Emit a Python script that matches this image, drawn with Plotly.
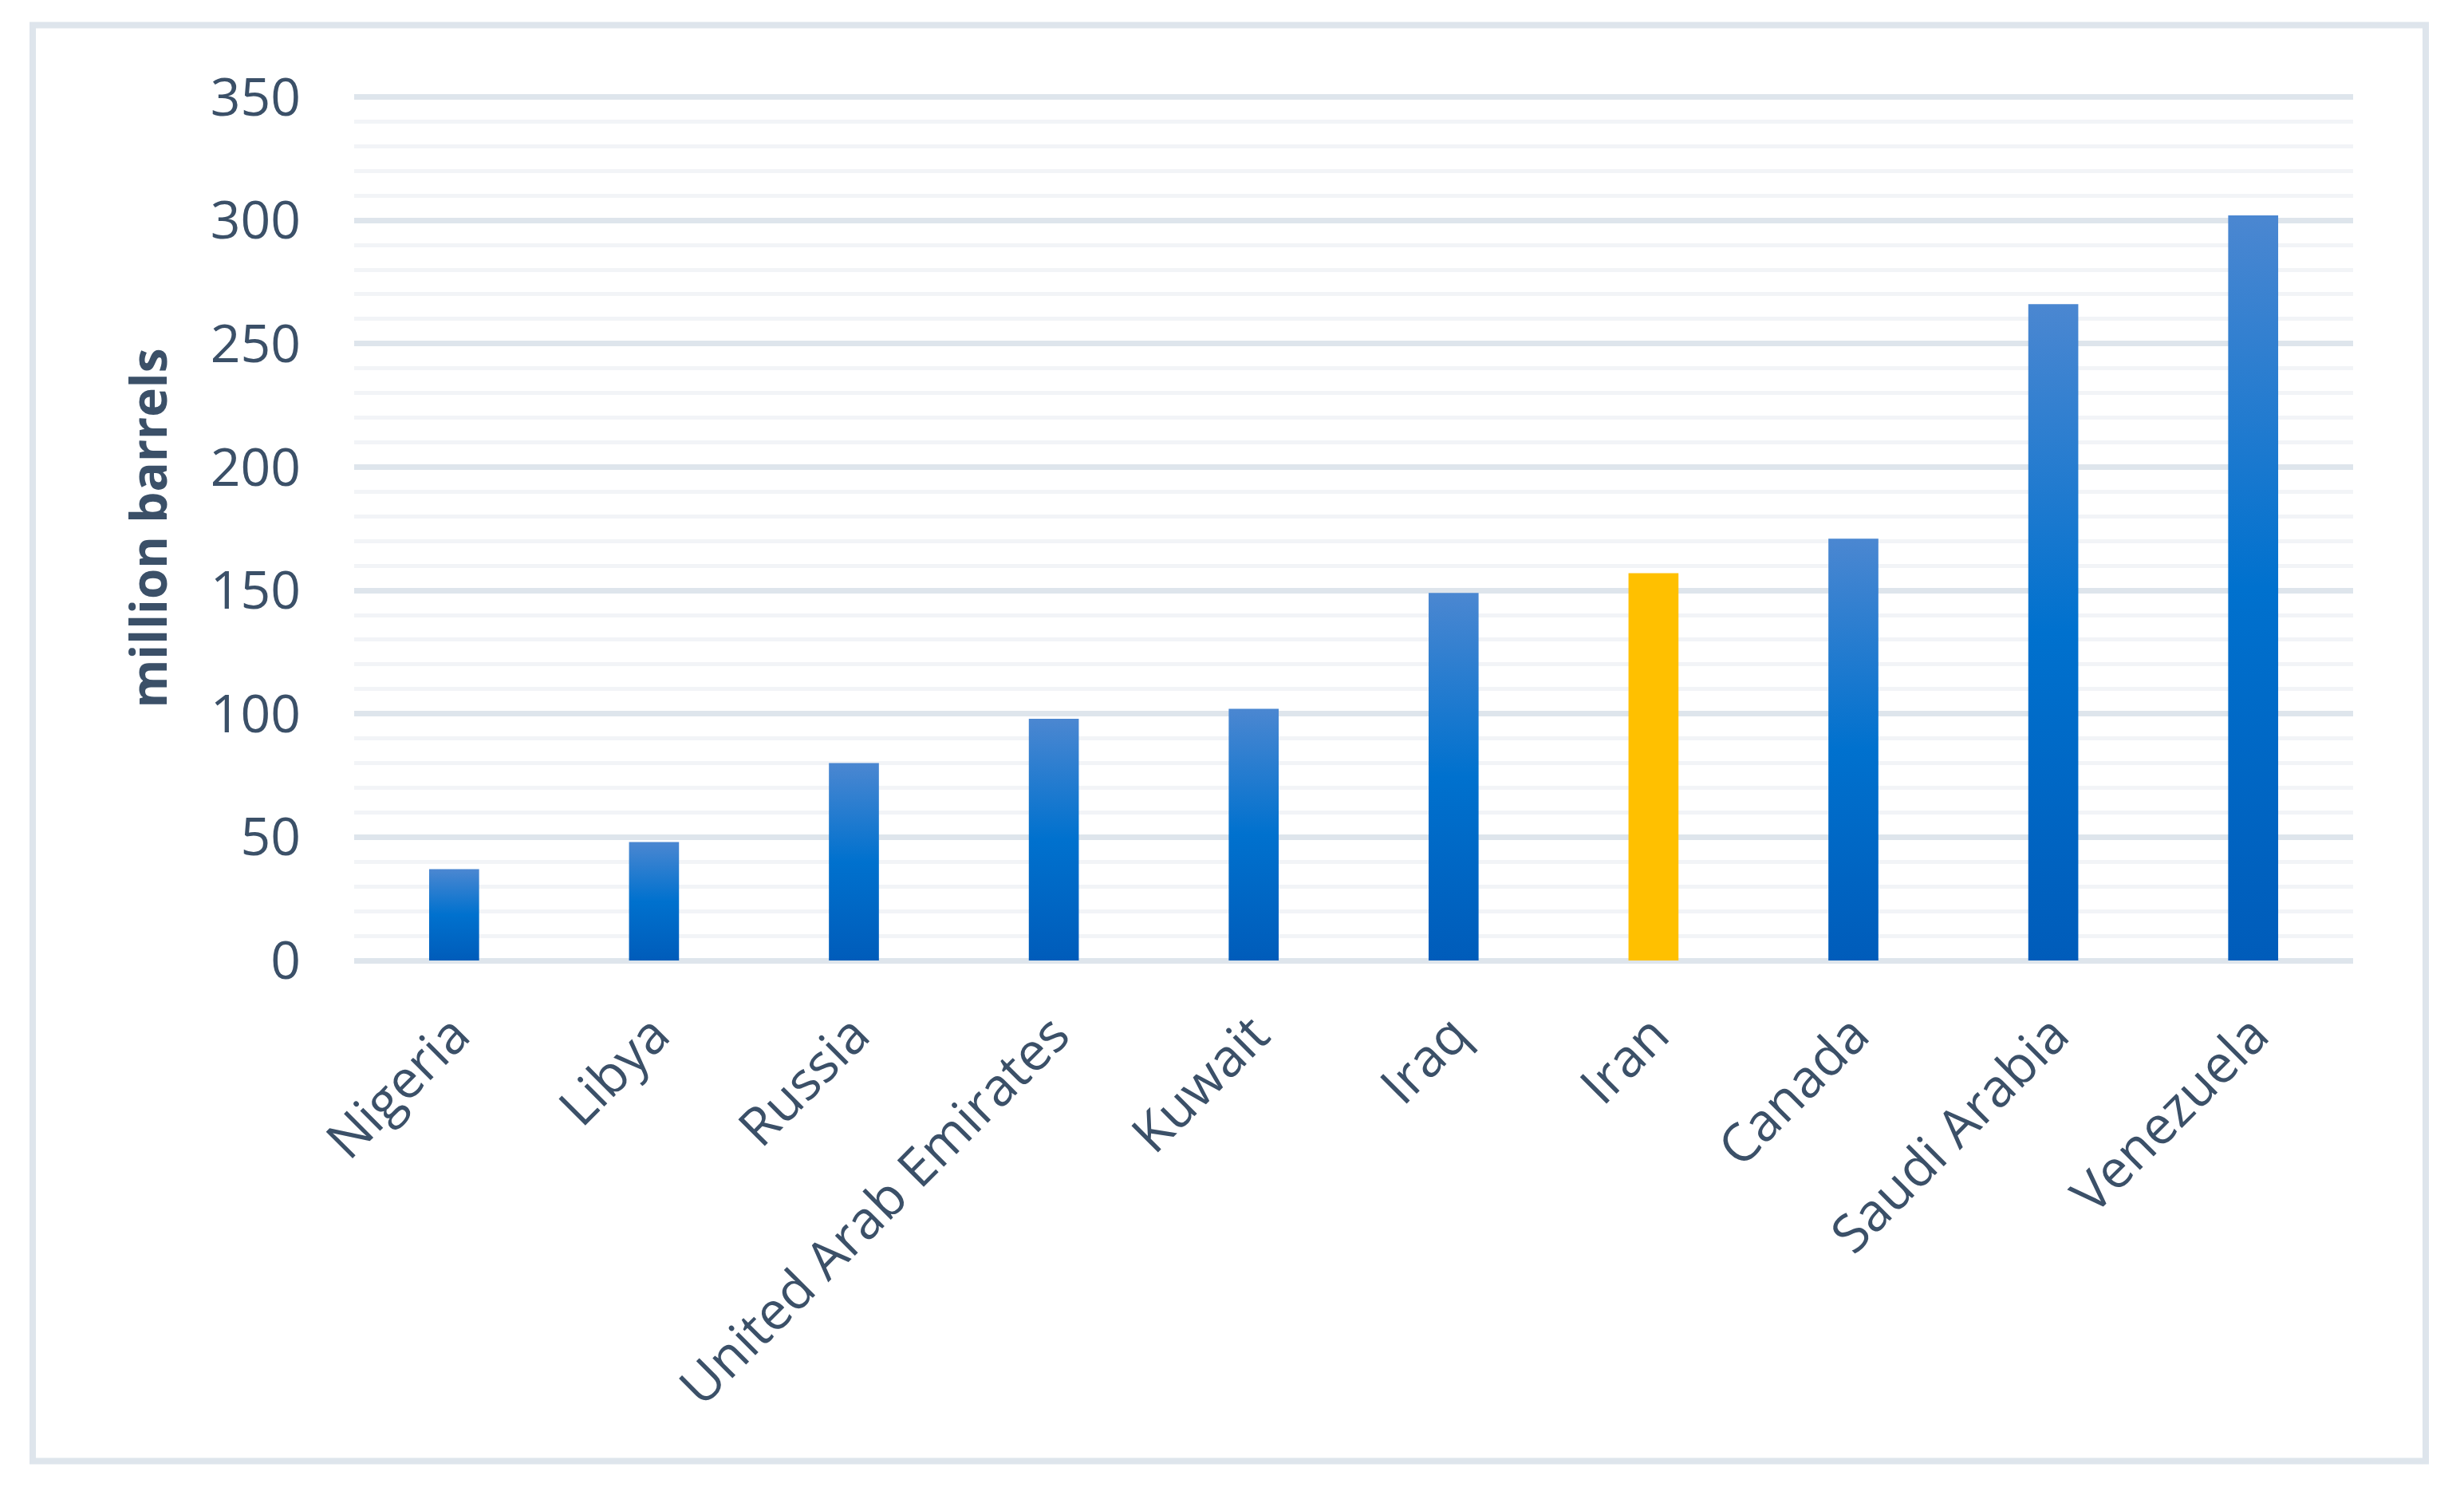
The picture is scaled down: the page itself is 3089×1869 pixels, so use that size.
import plotly.graph_objects as go

# ---- data ----
countries = ["Nigeria", "Libya", "Russia", "United Arab Emirates", "Kuwait",
             "Iraq", "Iran", "Canada", "Saudi Arabia", "Venezuela"]
reserves = [37, 48, 80, 98, 102, 149, 157, 171, 266, 302]
highlight = "Iran"
y_ticks = [0, 50, 100, 150, 200, 250, 300, 350]
y_title = "million barrels"

# ---- style ----
W, H = 3089, 1869
OFF = 8                      # page body margin
Y_TOP = 350.5                # a hair above 350 so the top gridline is drawn
PX_PER_UNIT = 1082 / 350
ML = 444 - OFF
PW = 2506
PH = round(Y_TOP * PX_PER_UNIT)
BASE = 1204 - OFF
MT = BASE - PH
MB = H - BASE
MR = W - ML - PW
TEXT = "#3b5068"
FONT = "Open Sans"
BLUE_SCALE = [[0, "#005cba"], [0.5, "#0071ce"], [1, "#4b87d1"]]
GOLD = "#ffc000"
HALF = 0.125

fig = go.Figure()
for i, (c, v) in enumerate(zip(countries, reserves)):
    xs = [i - HALF, i - HALF, i + HALF, i + HALF, i - HALF]
    ys = [0, v, v, 0, 0]
    tr = dict(x=xs, y=ys, mode="lines", fill="toself",
              line=dict(width=0, color="rgba(0,0,0,0)"),
              name=c, hoverinfo="text", text=f"{c}: {v}", showlegend=False)
    if c == highlight:
        tr["fillcolor"] = GOLD
    else:
        tr["fillgradient"] = dict(type="vertical", colorscale=BLUE_SCALE)
    fig.add_trace(go.Scatter(**tr))


def px(x):
    return (x - OFF - ML) / PW


def py(y):
    return (BASE - (y - OFF)) / PH


fig.update_layout(
    width=W, height=H,
    margin=dict(l=ML, r=MR, t=MT, b=MB, autoexpand=False),
    paper_bgcolor="white", plot_bgcolor="white",
    font=dict(family=FONT, size=66, color=TEXT),
    showlegend=False,
    xaxis=dict(range=[-0.5, len(countries) - 0.5], tickmode="array",
               tickvals=list(range(len(countries))), ticktext=countries,
               tickangle=-45, showgrid=False, zeroline=False, showline=False,
               ticks="", ticklabelstandoff=40, automargin=False,
               tickfont=dict(family=FONT, size=66, color=TEXT)),
    yaxis=dict(range=[0, Y_TOP], tickmode="array", tickvals=y_ticks,
               showgrid=True, gridcolor="#dee5ec", gridwidth=7,
               zeroline=True, zerolinecolor="#dee5ec", zerolinewidth=7,
               showline=False, ticks="", ticklabelstandoff=66,
               automargin=False,
               minor=dict(dtick=10, showgrid=True, gridcolor="#f2f4f7",
                          gridwidth=5),
               tickfont=dict(family=FONT, size=66, color=TEXT),
               title=dict(text=f"<b>{y_title}</b>", standoff=34,
                          font=dict(family=FONT, size=62, color=TEXT))),
    shapes=[dict(type="rect", xref="paper", yref="paper",
                 x0=px(41), x1=px(3041), y0=py(31.5), y1=py(1831.5),
                 line=dict(color="#dee5ec", width=8), layer="below")],
)

fig.write_html("out.html")
